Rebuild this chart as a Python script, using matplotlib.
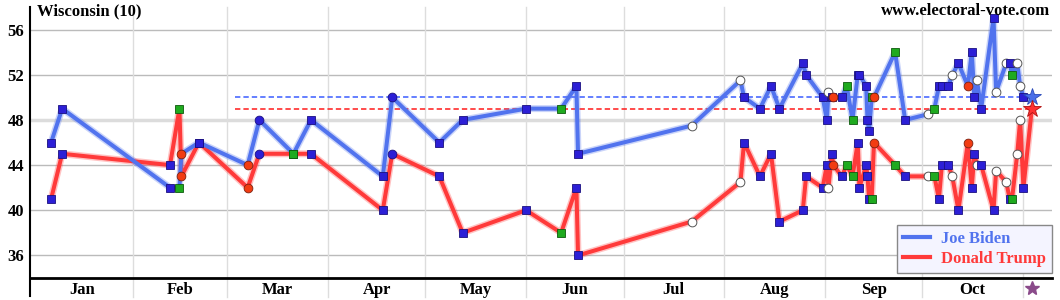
import matplotlib.pyplot as plt
from matplotlib.lines import Line2D
from matplotlib.transforms import blended_transform_factory

# poll dates as day of 2020 (Jan 1 = 0)
poll_day = [5.8, 9.2, 42.4, 45.3, 45.9, 51.3, 66.3, 69.9, 80.4, 85.8,
            107.9, 110.8, 125.3, 132.5, 152.0, 162.8, 167.5, 168.0, 203.0, 218.0,
            219.1, 224.0, 227.4, 230.0, 237.2, 238.2, 243.3, 244.6, 245.1, 246.1,
            246.6, 249.2, 250.7, 252.5, 254.1, 254.6, 256.7, 257.1, 257.6, 258.4,
            259.1, 265.6, 268.7, 275.7, 277.7, 279.1, 280.0, 282.0, 283.2, 285.1,
            288.0, 289.2, 290.0, 290.8, 292.1, 295.9, 296.7, 299.8, 300.9, 301.6,
            303.2, 304.1, 305.1]
biden = [46, 49, 42, 42, 45, 46, 44, 48, 45, 48,
         43, 50, 46, 48, 49, 49, 51, 45, 47.5, 51.5,
         50, 49, 51, 49, 53, 52, 50, 48, 50.5, 50,
         50, 50, 51, 48, 52, 52, 51, 48, 47, 50,
         50, 54, 48, 48.5, 49, 51, 51, 51, 52, 53,
         51, 54, 50, 51.5, 49, 57, 50.5, 53, 53, 52,
         53, 51, 50]
trump = [41, 45, 44, 49, 43, 46, 42, 45, 45, 45,
         40, 45, 43, 38, 40, 38, 42, 36, 39, 42.5,
         46, 43, 45, 39, 40, 43, 42, 44, 42, 45,
         44, 43, 44, 43, 46, 42, 44, 43, 41, 41,
         46, 44, 43, 43, 43, 41, 44, 44, 43, 40,
         46, 42, 45, 44, 44, 40, 43.5, 42.5, 41, 41,
         45, 48, 42]
# marker kind per poll: b blue square, g green square, r red dot, c blue dot, w open dot
kind = list("bbbgrbrcgb"
            "bcbbbgbbww"
            "bbbbbbbbwb"
            "rbggbbbbbg"
            "rgbwgbbbwb"
            "rbbwbbwwbg"
            "wwb")

election_day = 307.7
final_biden, final_trump = 50, 49
avg_start = 62.4
avg_biden, avg_trump = 50, 49

month_starts = [0, 31, 60, 91, 121, 152, 182, 213, 244, 274, 305]
month_names = ["Jan", "Feb", "Mar", "Apr", "May", "Jun", "Jul", "Aug", "Sep", "Oct"]
y_ticks = [36, 40, 44, 48, 52, 56]

blue = "#5173ee"
red = "#ff3a3a"
styles = {
    "b": dict(marker="s", ms=5.3, mfc="#2c1fd6", mec="#1a1080", mew=0.6),
    "g": dict(marker="s", ms=5.3, mfc="#1faa1f", mec="#0e5a0e", mew=0.6),
    "r": dict(marker="o", ms=6.3, mfc="#f23c12", mec="#7a2010", mew=0.6),
    "c": dict(marker="o", ms=6.3, mfc="#2c1fd6", mec="#1a1080", mew=0.6),
    "w": dict(marker="o", ms=6.3, mfc="white", mec="#555555", mew=0.7),
}

plt.rcParams["font.family"] = ["Liberation Serif", "DejaVu Serif"]
plt.rcParams["font.weight"] = "bold"

fig = plt.figure(figsize=(10.6, 3.0), dpi=100)
ax = fig.add_axes([30 / 1060, 22 / 300, 1022 / 1060, 271 / 300])
ax.set_xlim(-0.7, 313.9)
ax.set_ylim(34, 58)

# grid
for y in y_ticks:
    if y == 48:
        ax.axhline(y, color="#dcdcdc", lw=2.5, zorder=0)
    else:
        ax.axhline(y, color="#bbbbbb", lw=1, zorder=0)
tr = blended_transform_factory(ax.transData, ax.transAxes)
for d in month_starts[1:]:
    ax.plot([d, d], [-0.07, 1], color="#dddddd", lw=1, transform=tr,
            clip_on=False, zorder=0)

# averages
ax.plot([avg_start, election_day - 1], [avg_biden] * 2, color="#3a5cff",
        lw=1.1, ls=(0, (3.5, 2)), zorder=1)
ax.plot([avg_start, election_day - 1], [avg_trump] * 2, color="#ff1a1a",
        lw=1.1, ls=(0, (3.5, 2)), zorder=1)

xs = poll_day + [election_day]
for vals, fin, col in [(trump, final_trump, red), (biden, final_biden, blue)]:
    ys = vals + [fin]
    ax.plot(xs, ys, color=col, lw=5, alpha=0.3, solid_joinstyle="round", zorder=2)
    ax.plot(xs, ys, color=col, lw=2.9, solid_joinstyle="round", zorder=3)

for d, b, t, k in zip(poll_day, biden, trump, kind):
    ax.plot([d], [b], ls="none", zorder=4, **styles[k])
    ax.plot([d], [t], ls="none", zorder=4, **styles[k])

ax.plot([election_day], [final_biden], marker="*", ms=13, color="#4a6fe8",
        mec="#2a4ab8", mew=0.6, zorder=5)
ax.plot([election_day], [final_trump], marker="*", ms=13, color="#ff3030",
        mec="#b01010", mew=0.6, zorder=5)

# axes
for s in ["top", "right", "left"]:
    ax.spines[s].set_visible(False)
ax.spines["bottom"].set_linewidth(2)
ax.plot([0, 0], [-0.065, 1], color="black", lw=1.5, transform=ax.transAxes,
        clip_on=False, zorder=6)

mids = [(month_starts[i] + month_starts[i + 1]) / 2 for i in range(10)]
ax.set_xticks(mids)
ax.set_xticklabels(month_names, fontsize=12, fontweight="bold")
ax.set_yticks(y_ticks)
ax.set_yticklabels([str(v) for v in y_ticks], fontsize=12, fontweight="bold")
ax.tick_params(axis="both", length=0)
ax.tick_params(axis="x", pad=3)
ax.tick_params(axis="y", pad=4)
ax.plot([election_day], [-0.038], marker="*", ms=10, color="#8a4a8a",
        transform=tr, clip_on=False)

fig.text(37 / 1060, 1 - 11 / 300, "Wisconsin (10)", fontsize=12,
         fontweight="bold", va="center", ha="left")
fig.text(1050 / 1060, 1 - 11 / 300, "www.electoral-vote.com", fontsize=12,
         fontweight="bold", va="center", ha="right")

handles = [Line2D([], [], color=blue, lw=3), Line2D([], [], color=red, lw=3)]
leg = ax.legend(handles, ["Joe Biden", "Donald Trump"], loc="lower right",
                bbox_to_anchor=(1.0, 0.018), borderaxespad=0, fancybox=False,
                framealpha=1, facecolor="#f4f4ff", edgecolor="#888888",
                labelcolor=[blue, red], handlelength=1.6, handletextpad=0.7,
                prop=dict(size=12, weight="bold"), borderpad=0.35,
                labelspacing=0.25)
leg.get_frame().set_linewidth(1)
leg.set_zorder(7)

fig.savefig("out.png", dpi=100)
